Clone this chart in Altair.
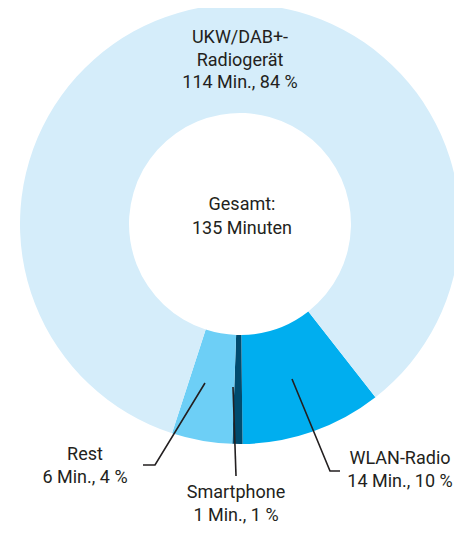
import altair as alt
import pandas as pd
import math

# ---- data ----
categories = ["WLAN-Radio", "Smartphone", "Rest", "UKW/DAB+-Radiogerät"]
minutes = [14, 1, 6, 114]
percents = [10, 1, 4, 84]
order_idx = [0, 1, 2, 3]
colors = ["#00AEEF", "#004B6E", "#6DCFF6", "#D5EDFA"]

label_lines = [
    ["WLAN-Radio", "14 Min., 10 %"],
    ["Smartphone", "1 Min., 1 %"],
    ["Rest", "6 Min., 4 %"],
    ["UKW/DAB+-", "Radiogerät", "114 Min., 84 %"],
]
center_lines = ["Gesamt:", "135 Minuten"]

# ---- layout ----
W, H = 446, 538
CX, CY = 232, 216
R_OUT, R_IN = 220, 111
start = math.radians(142)

df = pd.DataFrame({"cat": categories, "min": minutes, "ord": order_idx})

arcs = alt.Chart(df).mark_arc(outerRadius=R_OUT, innerRadius=R_IN, stroke=None).encode(
    theta=alt.Theta("min:Q", stack=True, scale=alt.Scale(range=[start, start + 2 * math.pi])),
    order=alt.Order("ord:Q"),
    color=alt.Color("cat:N", scale=alt.Scale(domain=categories, range=colors), legend=None),
    x=alt.value(CX), y=alt.value(CY),
)

# label anchor positions (chart px): first line centre x, y
anchors = [(392, 451), (228, 485), (77, 447), (232, 30)]
rows = []
for lines, (ax, ay) in zip(label_lines, anchors):
    for i, t in enumerate(lines):
        rows.append({"t": t, "px": ax, "py": ay + i * 22.5})
for i, t in enumerate(center_lines):
    rows.append({"t": t, "px": 234, "py": 197 + i * 24})
lab = pd.DataFrame(rows)

texts = alt.Chart(lab).mark_text(
    font="Roboto", fontSize=18, color="#231F20", baseline="middle", align="center"
).encode(
    x=alt.X("px:Q", scale=None), y=alt.Y("py:Q", scale=None), text="t:N"
)

# leader lines (chart px)
leaders = [
    ("WLAN", [(284, 371), (322, 463), (332, 463)]),
    ("Smart", [(225, 379), (228, 468)]),
    ("Rest", [(197, 375), (147, 457), (135, 457)]),
]
lrows = []
for name, pts in leaders:
    for k, (px, py) in enumerate(pts):
        lrows.append({"g": name, "k": k, "px": px, "py": py})
ldf = pd.DataFrame(lrows)
lines = alt.Chart(ldf).mark_line(color="#231F20", strokeWidth=1.6).encode(
    x=alt.X("px:Q", scale=None), y=alt.Y("py:Q", scale=None), detail="g:N", order="k:Q"
)

chart = alt.layer(arcs, lines, texts).properties(
    width=W, height=H, autosize=alt.AutoSizeParams(type="none"), padding=0
).configure_view(stroke=None)

chart.save("out.html", embed_options={"renderer": "svg", "actions": False})
